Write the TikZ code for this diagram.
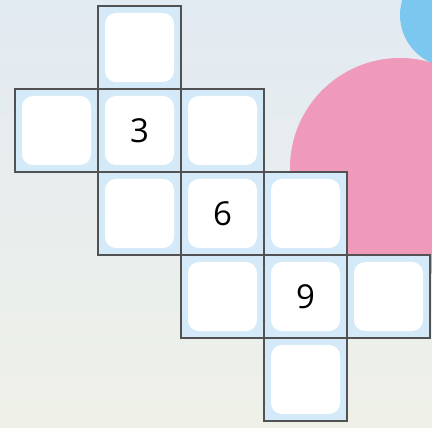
\documentclass[tikz,border=0pt]{standalone}
\usepackage{fontspec}
\setmainfont{Open Sans}
\begin{document}
\begin{tikzpicture}[x=1pt,y=-1pt,
  cell/.style={draw=black!68,line width=1.8pt,fill=cellblue,minimum size=83pt,inner sep=0pt,outer sep=0pt},
  inner/.style={fill=white,rounded corners=11pt,minimum size=69pt,inner sep=0pt,font=\fontsize{33}{33}\selectfont}]
\definecolor{cellblue}{HTML}{D5EAF8}
\definecolor{pinkc}{HTML}{F09ABB}
\definecolor{bluec}{HTML}{7BC7EF}
\definecolor{purplec}{HTML}{B49CC8}
\definecolor{bgtop}{HTML}{E2EAF2}
\definecolor{bgbot}{HTML}{EFF1E8}
\useasboundingbox (0,0) rectangle (432,428);
\shade[top color=bgtop,bottom color=bgbot] (0,0) rectangle (432,428);
\begin{scope}
\clip (0,0) rectangle (432,428);
\fill[pinkc] (400,168) circle[radius=110];
\fill[bluec] (452,15) circle[radius=52];
\begin{scope}
\clip (400,168) circle[radius=110];
\fill[purplec] (452,15) circle[radius=52];
\end{scope}
\end{scope}
% cells
\foreach \n/\cx/\cy in {a/139.5/47.5, b/56.5/130.5, c/139.5/130.5, d/222.5/130.5, e/139.5/213.5, f/222.5/213.5, g/305.5/213.5, h/222.5/296.5, i/305.5/296.5, j/388.5/296.5, k/305.5/379.5}{
  \node[cell] (cell\n) at (\cx,\cy) {};
}
\node[inner] (ina) at (cella) {};
\node[inner] (inb) at (cellb) {};
\node[inner] (inc) at (cellc) {3};
\node[inner] (ind) at (celld) {};
\node[inner] (ine) at (celle) {};
\node[inner] (inf) at (cellf) {6};
\node[inner] (ing) at (cellg) {};
\node[inner] (inh) at (cellh) {};
\node[inner] (ini) at (celli) {9};
\node[inner] (inj) at (cellj) {};
\node[inner] (ink) at (cellk) {};
\end{tikzpicture}
\end{document}
